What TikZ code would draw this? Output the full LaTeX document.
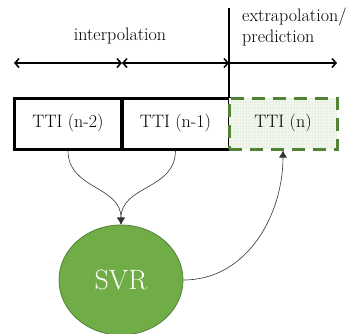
\documentclass[tikz,border=0pt]{standalone}
\usetikzlibrary{arrows.meta,shapes.geometric,patterns}
\definecolor{svrfill}{HTML}{70AD47}
\definecolor{svrline}{HTML}{548235}
\begin{document}
\begin{tikzpicture}[x=1pt,y=-1pt,
  every node/.style={font=\fontsize{18}{21}\selectfont},
  ttibox/.style={draw=black,line width=3pt,minimum width=107pt,minimum height=51pt,inner sep=0pt},
  tipbarb/.style={line width=1.5pt},
  curve/.style={line width=0.6pt,black!80,-{Latex[length=7pt,width=8pt]}},
  barb/.tip={Straight Barb[length=4pt,width=9pt]}]
\useasboundingbox (0,0) rectangle (351,333);
% boxes
\node[ttibox] (b1) at (68,123.5) {TTI (n-2)};
\node[ttibox] (b2) at (175.5,123.5) {TTI (n-1)};
\node[minimum width=108pt,minimum height=51pt,inner sep=0pt,
      preaction={fill=svrfill!10},
      pattern=dots,pattern color=svrfill!55,
      draw=svrline,line width=3pt,dash pattern=on 13pt off 8pt] (b3) at (283,123.5) {TTI (n)};
% divider
\coordinate (top) at (229,8);
\coordinate (bot) at (229,98);
\draw[line width=2pt] (top) -- (bot);
% arrows
\coordinate (a0) at (14,63);
\coordinate (a1) at (122,63);
\coordinate (a2) at (229,63);
\coordinate (a3) at (337,63);
\draw[tipbarb,barb-barb] (a0) -- (a1);
\draw[tipbarb,barb-barb] (a1) -- (a2);
\draw[tipbarb,-barb] (a2) -- (a3);
% labels
\node (interp) at (120,36) {interpolation};
\node[anchor=west,align=left,inner sep=0pt] (extra) at (242,27) {extrapolation/\\prediction};
% SVR
\node[ellipse,fill=svrfill,draw=svrline,line width=0.8pt,minimum width=124pt,minimum height=110pt,
      text=white,font=\fontsize{28}{32}\selectfont] (svr) at (121,280) {SVR};
% curves
\draw[curve] (b1.south) to[out=-90,in=90,looseness=1.1] (svr.north);
\draw[curve] (b2.south) to[out=-90,in=90,looseness=1.1] (svr.north);
\draw[curve] (svr.east) to[out=0,in=-90] (b3.south);
\end{tikzpicture}
\end{document}
